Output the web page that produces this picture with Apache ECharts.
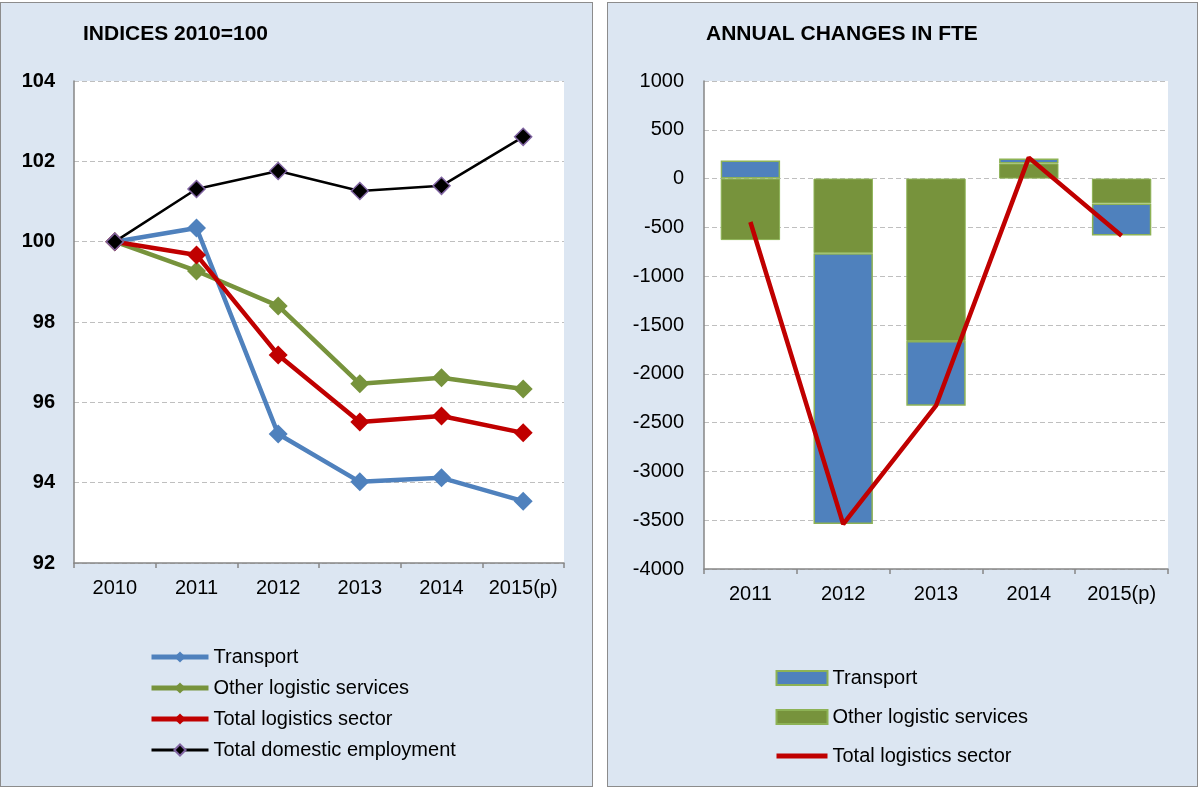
<!DOCTYPE html>
<html><head><meta charset="utf-8">
<script src="https://cdn.jsdelivr.net/npm/echarts@6/dist/echarts.min.js"></script>
<style>
html,body{margin:0;padding:0;background:#fff;width:1198px;height:787px;overflow:hidden;}
.panel{position:absolute;top:2px;height:785px;background:#DCE6F2;border:1px solid #8C8C8C;box-sizing:border-box;}
</style></head><body>
<div id="left" class="panel" style="left:0;width:593px;"></div>
<div id="right" class="panel" style="left:607px;width:591px;"></div>
<script>
// ---- Left chart data (indices 2010=100)
const idxCategories = ['2010','2011','2012','2013','2014','2015(p)'];
const idxTransport = [100, 100.34, 95.21, 94.02, 94.12, 93.54];
const idxOther = [100, 99.27, 98.40, 96.46, 96.61, 96.33];
const idxTotal = [100, 99.67, 97.18, 95.51, 95.66, 95.24];
const idxDomestic = [100, 101.31, 101.76, 101.26, 101.39, 102.61];

// ---- Right chart data (annual changes in FTE)
const fteCategories = ['2011','2012','2013','2014','2015(p)'];
const fteTransport = [185, -2775, -663, 50, -328];
const fteOther = [-630, -765, -1664, 155, -254];
const fteTotal = [-445, -3540, -2327, 215, -585];

const FONT = 'Liberation Sans, Arial, sans-serif';
const BLUE = '#4F81BD', GREEN = '#77933C', RED = '#C00000';
const AXIS = '#868686', GRID = '#BFBFBF';

const left = echarts.init(document.getElementById('left'), null, {renderer:'canvas'});
left.setOption({
  animation:false,
  textStyle:{fontFamily:FONT},
  title:{text:'INDICES 2010=100', left:82, top:21, padding:0, textStyle:{fontFamily:FONT,fontSize:21,fontWeight:'bold',color:'#000'}},
  grid:{left:73, top:78, width:490, height:482, backgroundColor:'#fff', show:true, borderWidth:0},
  xAxis:{type:'category', data:idxCategories, boundaryGap:true,
    axisLine:{lineStyle:{color:AXIS,width:1.5}},
    axisTick:{show:true,length:5,interval:0,lineStyle:{color:AXIS,width:1.5}},
    axisLabel:{color:'#000',fontSize:20,margin:15,interval:0,hideOverlap:false,fontFamily:FONT}},
  yAxis:{type:'value', min:92, max:104, interval:2,
    axisLine:{show:true,lineStyle:{color:AXIS,width:1.5}},
    axisTick:{show:false},
    axisLabel:{color:'#000',fontSize:20,fontWeight:'bold',margin:19,fontFamily:FONT},
    splitLine:{lineStyle:{color:GRID,type:[5,3],width:1.2}}},
  legend:{orient:'vertical', left:148, top:644, padding:0, itemWidth:57, itemHeight:14, itemGap:11,
    textStyle:{fontSize:20,color:'#000',fontFamily:FONT,lineHeight:20},
    data:[
      {name:'Transport', lineStyle:{width:5}},
      {name:'Other logistic services', lineStyle:{width:5}},
      {name:'Total logistics sector', lineStyle:{width:5}},
      {name:'Total domestic employment', lineStyle:{width:3}}]},
  series:[
    {name:'Transport', type:'line', data:idxTransport, symbol:'diamond', symbolSize:19,
      lineStyle:{color:BLUE,width:4.5}, itemStyle:{color:BLUE}},
    {name:'Other logistic services', type:'line', data:idxOther, symbol:'diamond', symbolSize:19,
      lineStyle:{color:GREEN,width:4.5}, itemStyle:{color:GREEN}},
    {name:'Total logistics sector', type:'line', data:idxTotal, symbol:'diamond', symbolSize:19,
      lineStyle:{color:RED,width:4.5}, itemStyle:{color:RED}},
    {name:'Total domestic employment', type:'line', data:idxDomestic, symbol:'diamond', symbolSize:17,
      lineStyle:{color:'#000',width:2.5}, itemStyle:{color:'#000',borderColor:'#8064A2',borderWidth:1.5}}
  ]
});

const right = echarts.init(document.getElementById('right'), null, {renderer:'canvas'});
right.setOption({
  animation:false,
  textStyle:{fontFamily:FONT},
  title:{text:'ANNUAL CHANGES IN FTE', left:98, top:21, padding:0, textStyle:{fontFamily:FONT,fontSize:21,fontWeight:'bold',color:'#000'}},
  grid:{left:96, top:78, width:464, height:488, backgroundColor:'#fff', show:true, borderWidth:0},
  xAxis:{type:'category', data:fteCategories, boundaryGap:true,
    axisLine:{onZero:false,lineStyle:{color:AXIS,width:1.5}},
    axisTick:{show:true,length:5,interval:0,lineStyle:{color:AXIS,width:1.5}},
    axisLabel:{color:'#000',fontSize:20,margin:15,interval:0,hideOverlap:false,fontFamily:FONT}},
  yAxis:{type:'value', min:-4000, max:1000, interval:500,
    axisLine:{show:true,lineStyle:{color:AXIS,width:1.5}},
    axisTick:{show:false},
    axisLabel:{color:'#000',fontSize:20,margin:20,fontFamily:FONT,formatter:function(v){return String(v);}},
    splitLine:{lineStyle:{color:GRID,type:[5,3],width:1.2}}},
  legend:{orient:'vertical', left:166, top:665, padding:0, itemWidth:51, itemHeight:14, itemGap:19,
    textStyle:{fontSize:20,color:'#000',fontFamily:FONT,lineHeight:20},
    data:[{name:'Transport',icon:'rect'},{name:'Other logistic services',icon:'rect'},
      {name:'Total logistics sector', lineStyle:{width:5}, itemStyle:{opacity:0}}]},
  series:[
    {name:'Other logistic services', type:'bar', stack:'fte', data:fteOther, barWidth:'64%',
      itemStyle:{color:GREEN,borderColor:'#8DB255',borderWidth:1}},
    {name:'Transport', type:'bar', stack:'fte', data:fteTransport, barWidth:'64%',
      itemStyle:{color:BLUE,borderColor:'#8DB255',borderWidth:1.5}},
    {name:'Total logistics sector', type:'line', data:fteTotal, symbol:'none', showSymbol:false,
      lineStyle:{color:RED,width:4.5}, itemStyle:{color:RED}, z:5}
  ]
});
</script>
</body></html>
